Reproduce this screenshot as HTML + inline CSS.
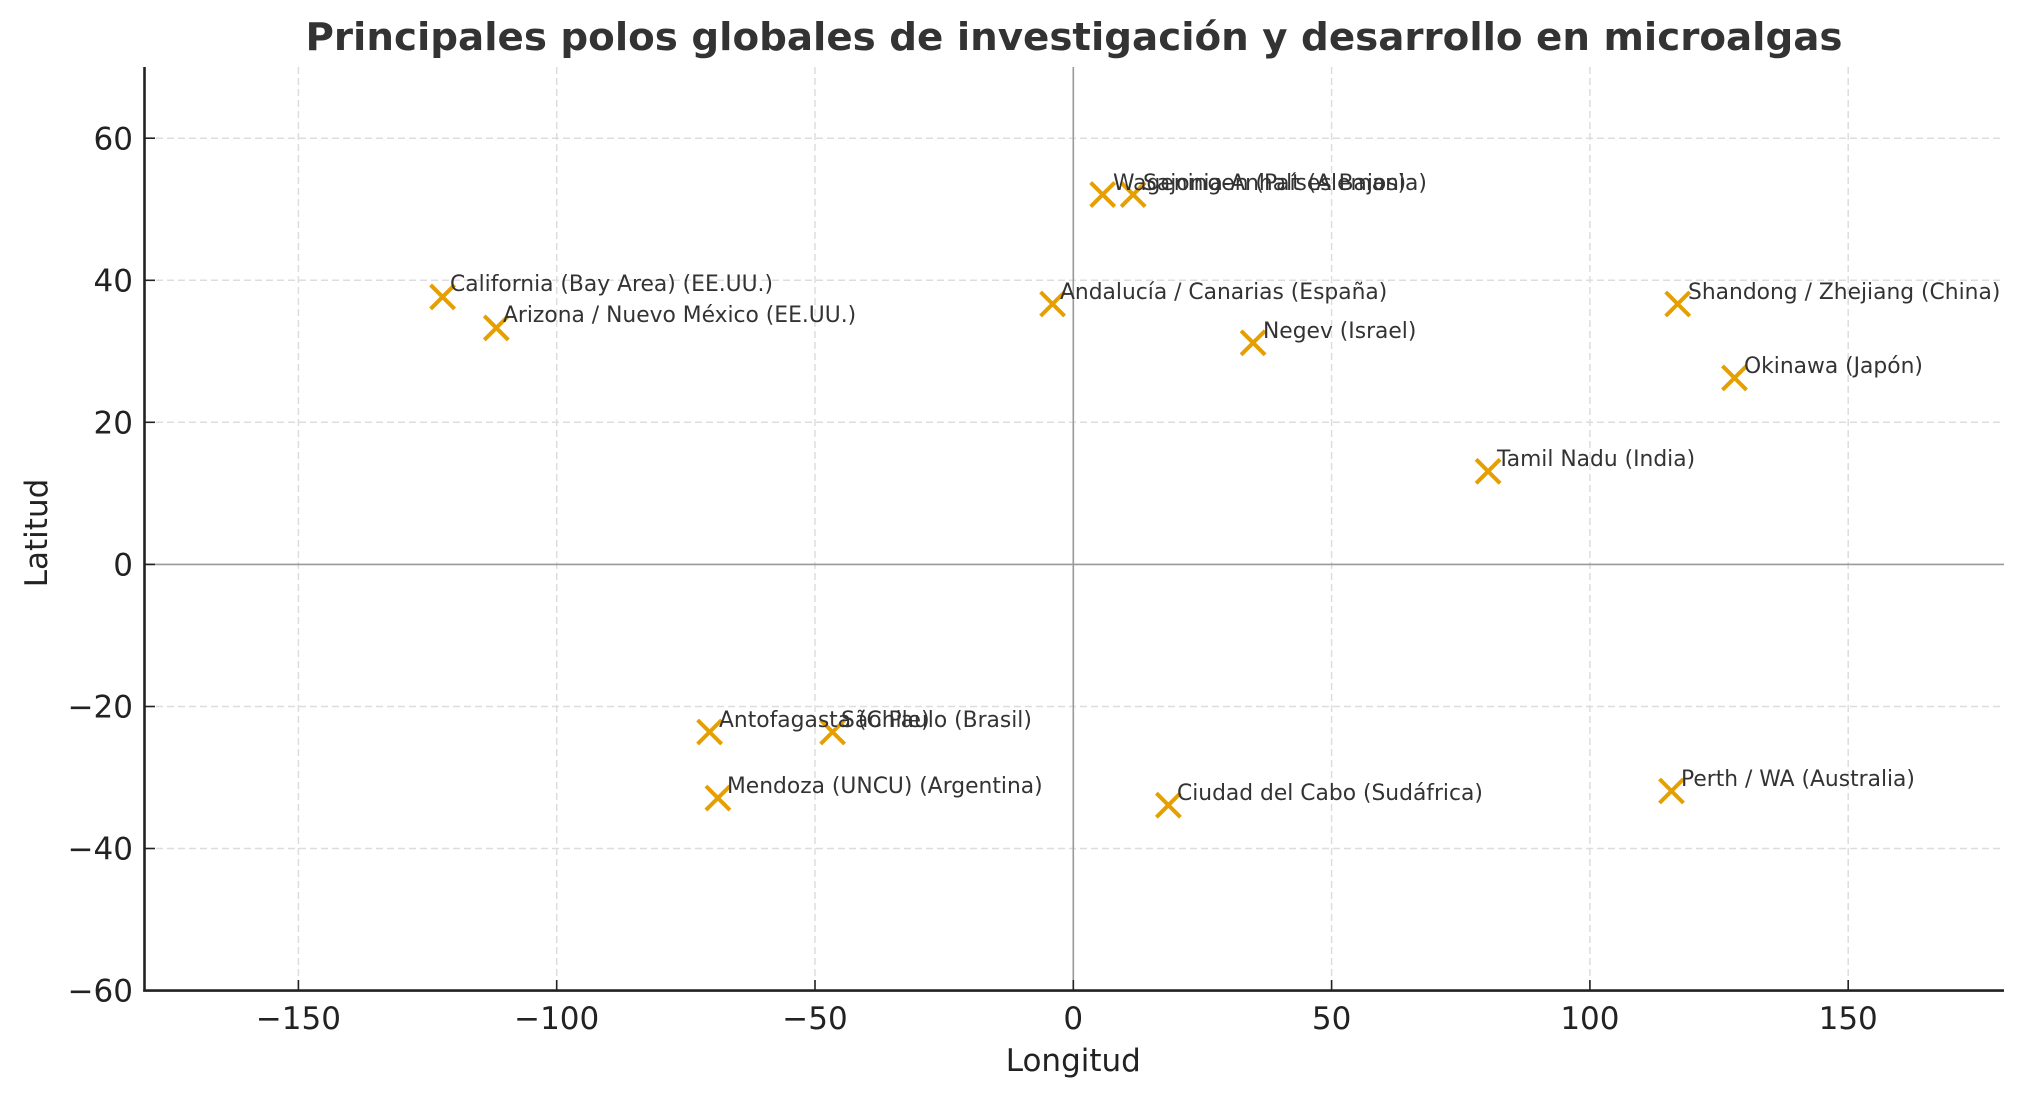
<!DOCTYPE html>
<html><head><meta charset="utf-8"><style>
html,body{margin:0;padding:0;background:#fff;}
svg{display:block;}
text{font-family:"DejaVu Sans","Liberation Sans",sans-serif;}
</style></head><body>
<svg width="2025" height="1098" viewBox="0 0 2025 1098" xmlns="http://www.w3.org/2000/svg">
<rect width="2025" height="1098" fill="#fff"/>
<g stroke="#dddddd" stroke-width="1.5" stroke-dasharray="7,4">
<line x1="298.4" y1="67" x2="298.4" y2="990"/>
<line x1="556.7" y1="67" x2="556.7" y2="990"/>
<line x1="815" y1="67" x2="815" y2="990"/>
<line x1="1331.6" y1="67" x2="1331.6" y2="990"/>
<line x1="1589.9" y1="67" x2="1589.9" y2="990"/>
<line x1="1848.2" y1="67" x2="1848.2" y2="990"/>
<line x1="145" y1="138.2" x2="2004" y2="138.2"/>
<line x1="145" y1="280.3" x2="2004" y2="280.3"/>
<line x1="145" y1="422.3" x2="2004" y2="422.3"/>
<line x1="145" y1="706.5" x2="2004" y2="706.5"/>
<line x1="145" y1="848.5" x2="2004" y2="848.5"/>
</g>
<line x1="1073.3" y1="67" x2="1073.3" y2="990" stroke="#999" stroke-width="1.6"/>
<line x1="145" y1="564.4" x2="2004" y2="564.4" stroke="#999" stroke-width="1.6"/>
<line x1="144.5" y1="67" x2="144.5" y2="991.5" stroke="#222" stroke-width="2.6"/>
<line x1="143.2" y1="990.6" x2="2004" y2="990.6" stroke="#222" stroke-width="2.6"/>
<g stroke="#222" stroke-width="1.6">
<line x1="298.4" y1="990" x2="298.4" y2="980"/>
<line x1="556.7" y1="990" x2="556.7" y2="980"/>
<line x1="815" y1="990" x2="815" y2="980"/>
<line x1="1073.3" y1="990" x2="1073.3" y2="980"/>
<line x1="1331.6" y1="990" x2="1331.6" y2="980"/>
<line x1="1589.9" y1="990" x2="1589.9" y2="980"/>
<line x1="1848.2" y1="990" x2="1848.2" y2="980"/>
<line x1="145" y1="138.2" x2="155" y2="138.2"/>
<line x1="145" y1="280.3" x2="155" y2="280.3"/>
<line x1="145" y1="422.3" x2="155" y2="422.3"/>
<line x1="145" y1="564.4" x2="155" y2="564.4"/>
<line x1="145" y1="706.5" x2="155" y2="706.5"/>
<line x1="145" y1="848.5" x2="155" y2="848.5"/>
</g>
<g font-size="31" fill="#222" text-anchor="middle">
<text x="298.4" y="1029">−150</text>
<text x="556.7" y="1029">−100</text>
<text x="815" y="1029">−50</text>
<text x="1073.3" y="1029">0</text>
<text x="1331.6" y="1029">50</text>
<text x="1589.9" y="1029">100</text>
<text x="1848.2" y="1029">150</text>
</g>
<g font-size="31" fill="#222" text-anchor="end">
<text x="133" y="149.5">60</text>
<text x="133" y="291.5">40</text>
<text x="133" y="433.5">20</text>
<text x="133" y="575.5">0</text>
<text x="133" y="717.5">−20</text>
<text x="133" y="859.5">−40</text>
<text x="133" y="1001.5">−60</text>
</g>
<text x="1073.3" y="1071" font-size="31" fill="#222" text-anchor="middle">Longitud</text>
<text transform="translate(47,533) rotate(-90)" font-size="31" fill="#222" text-anchor="middle">Latitud</text>
<text x="1074" y="50" font-size="38" font-weight="bold" fill="#333" text-anchor="middle" textLength="1537" lengthAdjust="spacingAndGlyphs">Principales polos globales de investigación y desarrollo en microalgas</text>
<g stroke="#E69F00" stroke-width="4" fill="none">
<path d="M430.6 284.9l24 24m0 -24l-24 24"/>
<path d="M484.3 315.9l24 24m0 -24l-24 24"/>
<path d="M1040.6 292l24 24m0 -24l-24 24"/>
<path d="M1090.7 182.6l24 24m0 -24l-24 24"/>
<path d="M1121.2 182.6l24 24m0 -24l-24 24"/>
<path d="M1241.1 330.8l24 24m0 -24l-24 24"/>
<path d="M1665.7 292l24 24m0 -24l-24 24"/>
<path d="M1722.5 365.9l24 24m0 -24l-24 24"/>
<path d="M1476.1 459.3l24 24m0 -24l-24 24"/>
<path d="M697.6 720l24 24m0 -24l-24 24"/>
<path d="M820.6 720l24 24m0 -24l-24 24"/>
<path d="M705.9 786.1l24 24m0 -24l-24 24"/>
<path d="M1156.4 793.2l24 24m0 -24l-24 24"/>
<path d="M1659.5 779l24 24m0 -24l-24 24"/>
</g>
<g font-size="21.8" fill="#333">
<text x="450" y="291">California (Bay Area) (EE.UU.)</text>
<text x="503" y="322">Arizona / Nuevo México (EE.UU.)</text>
<text x="1060" y="299">Andalucía / Canarias (España)</text>
<text x="1113" y="190">Wageningen (Países Bajos)</text>
<text x="1143" y="190">Sajonia-Anhalt (Alemania)</text>
<text x="1263" y="338">Negev (Israel)</text>
<text x="1688" y="299">Shandong / Zhejiang (China)</text>
<text x="1744" y="373">Okinawa (Japón)</text>
<text x="1497" y="466">Tamil Nadu (India)</text>
<text x="719" y="727">Antofagasta (Chile)</text>
<text x="841" y="727">São Paulo (Brasil)</text>
<text x="727" y="793">Mendoza (UNCU) (Argentina)</text>
<text x="1177" y="800">Ciudad del Cabo (Sudáfrica)</text>
<text x="1681" y="786">Perth / WA (Australia)</text>
</g>
</svg>
</body></html>
